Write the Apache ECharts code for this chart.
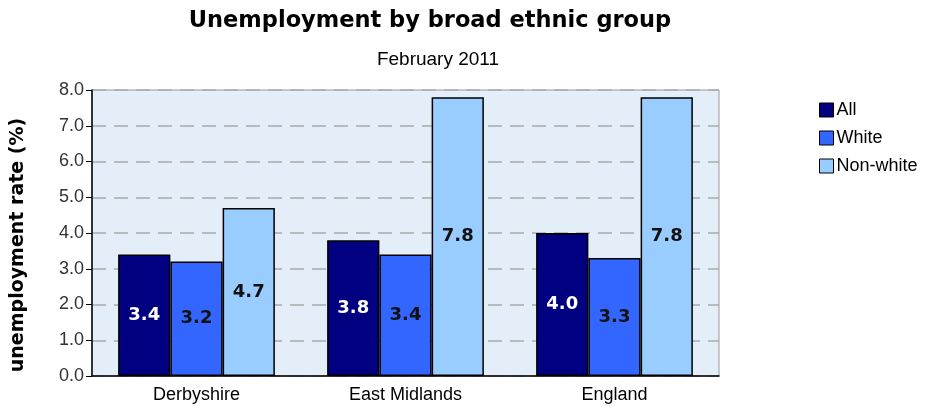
<!DOCTYPE html>
<html>
<head>
<meta charset="utf-8">
<script src="https://cdn.jsdelivr.net/npm/echarts@6/dist/echarts.min.js"></script>
<style>
html,body{margin:0;padding:0;background:#fff;}
#chart{width:946px;height:412px;}
</style>
</head>
<body>
<div id="chart"></div>
<script>
// Unemployment rate (%) by area and broad ethnic group, February 2011
const areas = ['Derbyshire', 'East Midlands', 'England'];
const allRate = [3.4, 3.8, 4.0];
const whiteRate = [3.2, 3.4, 3.3];
const nonWhiteRate = [4.7, 7.8, 7.8];
const yTicks = [0, 1, 2, 3, 4, 5, 6, 7, 8];

const font = '"Liberation Sans", Arial, sans-serif';
const boldFont = '"DejaVu Sans", Verdana, sans-serif';

function barSeries(name, data, color, labelColor) {
  return {
    name: name,
    type: 'bar',
    data: data,
    barGap: '0%',
    barCategoryGap: '25%',
    itemStyle: { color: color, borderColor: '#000', borderWidth: 1.5 },
    label: {
      show: true,
      position: 'inside',
      formatter: p => p.value.toFixed(1),
      color: labelColor,
      fontFamily: boldFont,
      fontWeight: 'bold',
      fontSize: 18
    }
  };
}

const chart = echarts.init(document.getElementById('chart'), null, { renderer: 'canvas' });
chart.setOption({
  backgroundColor: '#fff',
  animation: false,
  title: [
    {
      text: 'Unemployment by broad ethnic group',
      left: 425, top: 5, textAlign: 'center',
      textStyle: { fontFamily: boldFont, fontWeight: 'bold', fontSize: 22.5, color: '#000' }
    },
    {
      text: 'February 2011',
      left: 433, top: 45, textAlign: 'center',
      textStyle: { fontFamily: font, fontWeight: 'normal', fontSize: 19, color: '#000' }
    }
  ],
  legend: {
    orient: 'vertical',
    left: 814, top: 96,
    itemWidth: 14, itemHeight: 14, itemGap: 10,
    icon: 'rect',
    itemStyle: { borderColor: '#000', borderWidth: 1 },
    textStyle: { fontFamily: font, fontSize: 18, color: '#000', padding: [0, 0, 0, -2] },
    data: ['All', 'White', 'Non-white']
  },
  grid: {
    left: 92, right: 227, top: 90, bottom: 36,
    show: true, backgroundColor: '#e3eef9', borderColor: '#999', borderWidth: 1
  },
  xAxis: {
    type: 'category',
    data: areas,
    axisLine: { show: true, lineStyle: { color: '#000', width: 1.5 } },
    axisTick: { show: false },
    axisLabel: { fontFamily: font, fontSize: 18, color: '#000', margin: 10 }
  },
  yAxis: {
    type: 'value',
    min: yTicks[0], max: yTicks[yTicks.length - 1], interval: 1,
    name: 'unemployment rate (%)',
    nameLocation: 'middle',
    nameGap: 64,
    nameTextStyle: {
      fontFamily: boldFont, fontWeight: 'bold', fontSize: 19, color: '#000',
      padding: [0, 24, 0, 0]
    },
    axisLine: { show: true, lineStyle: { color: '#000', width: 1.5 } },
    axisTick: { show: true, length: 6, lineStyle: { color: '#000' } },
    axisLabel: {
      fontFamily: font, fontSize: 18, color: '#333', margin: 8,
      formatter: v => v.toFixed(1)
    },
    splitLine: { show: true, lineStyle: { color: '#aaa', type: [14, 8], width: 1.5 } }
  },
  series: [
    barSeries('All', allRate, '#000080', '#fff'),
    barSeries('White', whiteRate, '#3366ff', '#111'),
    barSeries('Non-white', nonWhiteRate, '#99ccff', '#111')
  ]
});
</script>
</body>
</html>
